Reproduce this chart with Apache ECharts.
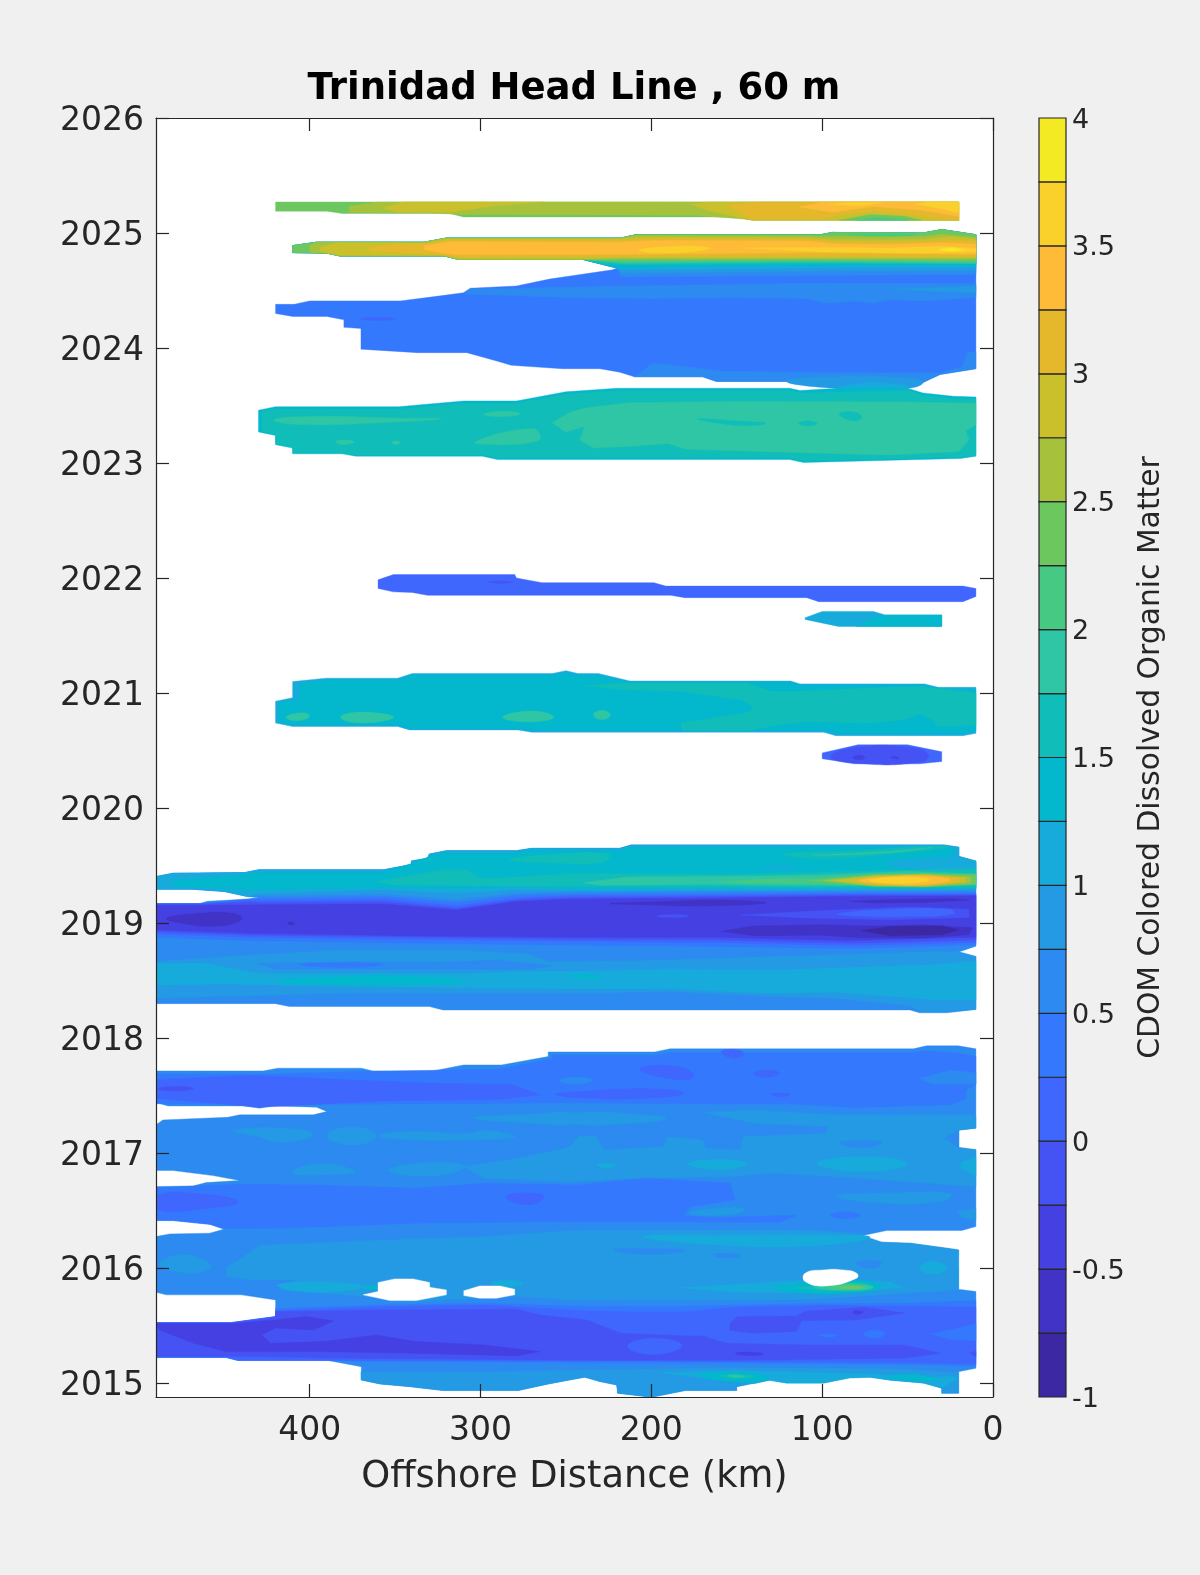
<!DOCTYPE html>
<html>
<head>
<meta charset="utf-8">
<script src="https://cdn.jsdelivr.net/npm/echarts@6/dist/echarts.min.js"></script>
<style>html,body{margin:0;padding:0;background:#F0F0F0}#c{width:1200px;height:1575px}</style>
</head>
<body>
<div id="c"></div>
<script>
// ---- scale ----
const yearTicks = [2015,2016,2017,2018,2019,2020,2021,2022,2023,2024,2025,2026];
const kmTicks = [0,100,200,300,400];
const cdomTicks = [-1,-0.5,0,0.5,1,1.5,2,2.5,3,3.5,4];
const cdomBands = [-1,-0.75,-0.5,-0.25,0,0.25,0.5,0.75,1,1.25,1.5,1.75,2,2.25,2.5,2.75,3,3.25,3.5,3.75,4];
const levelColors = ['#3C28A2','#4033C5','#4540E2','#4553F5','#3F66FD','#3478FD','#2C8AF0','#2499E4','#17ABDC','#03B7CC','#11BDB9','#2FC6A5','#46C983','#6DC75F','#A6C23C','#C9C02C','#E5B82C','#FDBB37','#FAD12A','#F4EA24'];
const GAP = -1; // no data

// ---- filled contour regions: [level, [[km, year], ...]] ----
const surveyTop2025 = [
 [13,[[420,2025.27],[20,2025.27],[20,2025.11],[141,2025.11],[150,2025.14],[310,2025.14],[318,2025.17],[381,2025.17],[390,2025.19],[420,2025.19]]],
 [14,[[377,2025.23],[360,2025.27],[20,2025.27],[20,2025.11],[141,2025.115],[175,2025.155],[310,2025.16],[330,2025.175],[377,2025.18]]],
 [15,[[357,2025.22],[345,2025.27],[263,2025.27],[290,2025.24],[318,2025.18],[350,2025.18]]],
 [15,[[177,2025.25],[165,2025.27],[20,2025.27],[20,2025.11],[141,2025.11],[150,2025.14],[165,2025.19]]],
 [16,[[155,2025.24],[140,2025.27],[20,2025.27],[20,2025.11],[31,2025.12],[48,2025.16],[70,2025.19],[90,2025.16],[100,2025.12],[141,2025.12],[150,2025.19]]],
 [17,[[113,2025.225],[100,2025.27],[20,2025.27],[20,2025.145],[43,2025.2],[70,2025.23],[94,2025.18]]],
 [18,[[96,2025.245],[85,2025.265],[65,2025.265],[75,2025.24]]],
 [18,[[45,2025.25],[38,2025.27],[20,2025.27],[20,2025.175],[30,2025.21]]],
 [13,[[90,2025.11],[72,2025.16],[52,2025.145],[42,2025.11]]],
 [12,[[80,2025.11],[68,2025.135],[55,2025.12],[50,2025.11]]]
];
const stripEdge2024 = [[220,2024.695],[228,2024.725],[240,2024.77],[313,2024.77],[321,2024.80],[382,2024.80],[390,2024.825],[410,2024.83],[410,2024.89],[396,2024.92],[333,2024.92],[320,2024.956],[218,2024.956],[209,2024.985],[101,2024.985],[94,2025.005],[41,2025.0],[30,2025.03],[10,2024.985]];
const blueEdge2024 = [[10,2023.82],[31,2023.77],[41,2023.70],[50,2023.65],[91,2023.65],[121,2023.71],[162,2023.71],[170,2023.75],[210,2023.75],[218.5,2023.79],[230,2023.82],[252,2023.82],[282,2023.85],[290,2023.885],[308,2023.96],[337,2023.96],[370,2023.99],[370,2024.17],[380,2024.18],[380,2024.245],[390,2024.275],[410,2024.275],[420,2024.30],[420,2024.38],[409,2024.38],[400,2024.41],[347,2024.41],[328,2024.445],[310,2024.48],[306,2024.52],[279,2024.54],[259.5,2024.60],[222.6,2024.68]];
const contours2024 = [
 [6,0,[[10,2024.64],[100,2024.63],[218,2024.617]]],
 [7,0,[[10,2024.667],[100,2024.667],[218,2024.652]]],
 [8,0,[[10,2024.70],[100,2024.695],[218,2024.68]]],
 [9,0,[[10,2024.72],[100,2024.72],[218,2024.70]]],
 [10,1,[[10,2024.73],[100,2024.73],[218,2024.725]]],
 [11,2,[[10,2024.735],[100,2024.745],[218,2024.735]]],
 [12,2,[[10,2024.745],[100,2024.755],[218,2024.745]]],
 [13,2,[[10,2024.755],[100,2024.765],[218,2024.76]]]
];
const strip2024 = [
 [14,[[400,2024.89],[396,2024.92],[333,2024.92],[320,2024.956],[218,2024.956],[209,2024.98],[110,2024.975],[95,2024.97],[60,2024.965],[40,2024.97],[30,2024.99],[10,2024.96],[10,2024.775],[100,2024.775],[218,2024.775],[240,2024.77],[313,2024.77],[321,2024.80],[382,2024.80],[390,2024.825],[400,2024.83]]],
 [15,[[394,2024.875],[385,2024.915],[333,2024.913],[320,2024.948],[218,2024.948],[205,2024.968],[110,2024.96],[95,2024.945],[60,2024.94],[40,2024.945],[25,2024.97],[10,2024.945],[10,2024.785],[100,2024.785],[218,2024.785],[240,2024.777],[313,2024.777],[321,2024.807],[382,2024.807],[394,2024.84]]],
 [16,[[365,2024.87],[350,2024.905],[333,2024.905],[318,2024.935],[218,2024.935],[200,2024.95],[110,2024.945],[90,2024.925],[60,2024.92],[40,2024.925],[25,2024.94],[10,2024.925],[10,2024.797],[100,2024.797],[218,2024.797],[313,2024.79],[325,2024.815],[365,2024.845]]],
 [17,[[333,2024.89],[318,2024.925],[218,2024.92],[200,2024.935],[110,2024.93],[90,2024.905],[60,2024.90],[30,2024.915],[10,2024.905],[10,2024.815],[100,2024.83],[218,2024.815],[313,2024.81],[321,2024.825],[333,2024.855]]],
 [18,[[207,2024.855],[185,2024.885],[166,2024.87],[175,2024.84],[200,2024.83]]],
 [18,[[145,2024.87],[100,2024.875],[60,2024.87],[30,2024.885],[10,2024.865],[10,2024.835],[40,2024.825],[100,2024.835]]],
 [19,[[32,2024.855],[24,2024.875],[17,2024.855],[24,2024.84]]],
 [12,[[85,2024.985],[60,2024.992],[45,2024.985],[60,2024.975]]]
];
const blue2024 = [
 [6,[[310,2024.47],[306,2024.515],[279,2024.52],[218,2024.54],[100,2024.565],[10,2024.56],[10,2024.44],[40,2024.41],[60,2024.42],[70,2024.39],[80,2024.41],[97,2024.39],[110,2024.43],[150,2024.44],[200,2024.43],[250,2024.44]]],
 [7,[[60,2024.51],[10,2024.54],[10,2024.48],[30,2024.49]]],
 [6,[[210,2023.75],[199,2023.87],[180,2023.84],[160,2023.80],[110,2023.79],[62,2023.785],[31,2023.785],[18,2023.84],[15,2023.96],[10,2023.97],[10,2023.82],[31,2023.77],[41,2023.70],[50,2023.65],[91,2023.65],[121,2023.71],[162,2023.71],[170,2023.75]]],
 [7,[[121,2023.71],[95,2023.75],[50,2023.74],[41,2023.70],[50,2023.65],[91,2023.65]]],
 [8,[[91,2023.65],[70,2023.70],[50,2023.66]]],
 [4,[[370,2024.255],[360,2024.265],[350,2024.255],[360,2024.24]]]
];
const teal2023 = [
 [9,[[430,2023.46],[420,2023.49],[348,2023.49],[310,2023.54],[279,2023.54],[250,2023.62],[220,2023.65],[119,2023.65],[113,2023.63],[91,2023.65],[50,2023.65],[41,2023.61],[23,2023.58],[10,2023.575],[10,2023.06],[19,2023.04],[111,2023.005],[119,2023.03],[213,2023.03],[290,2023.03],[299,2023.06],[373,2023.06],[381,2023.08],[410,2023.08],[410,2023.13],[420,2023.16],[420,2023.24],[430,2023.27]]],
 [10,[[428,2023.45],[420,2023.47],[348,2023.47],[310,2023.52],[279,2023.52],[250,2023.60],[218,2023.63],[119,2023.63],[113,2023.61],[50,2023.63],[41,2023.59],[23,2023.56],[10,2023.56],[10,2023.07],[19,2023.05],[111,2023.02],[119,2023.045],[213,2023.045],[290,2023.045],[299,2023.07],[373,2023.07],[381,2023.09],[410,2023.09],[410,2023.14],[420,2023.17],[420,2023.25],[428,2023.28]]],
 [11,[[258,2023.35],[248,2023.44],[238,2023.48],[213,2023.525],[150,2023.535],[50,2023.53],[10,2023.52],[10,2023.33],[16,2023.28],[14,2023.2],[20,2023.1],[60,2023.07],[110,2023.09],[180,2023.12],[190,2023.17],[213,2023.145],[234,2023.13],[242,2023.20],[239,2023.32],[250,2023.27]]],
 [10,[[173,2023.385],[150,2023.365],[133,2023.345],[145,2023.325],[160,2023.345]]],
 [10,[[114,2023.345],[108,2023.365],[103,2023.34],[110,2023.325]]],
 [10,[[90,2023.43],[80,2023.44],[77,2023.39],[83,2023.37]]],
 [11,[[421,2023.375],[400,2023.405],[350,2023.39],[323,2023.385],[360,2023.35],[405,2023.335]]],
 [11,[[298,2023.425],[285,2023.45],[277,2023.425],[290,2023.405]]],
 [11,[[303,2023.185],[270,2023.30],[265,2023.22],[270,2023.18],[290,2023.16]]],
 [11,[[385,2023.185],[380,2023.2],[374,2023.185],[380,2023.16]]],
 [11,[[352,2023.18],[349,2023.195],[347,2023.18],[349,2023.16]]]
];
const strip2022 = [
 [4,[[360,2021.985],[351,2022.03],[280,2022.03],[279,2022.0],[264,2021.96],[198.5,2021.96],[191.6,2021.93],[17.6,2021.93],[10,2021.91],[10,2021.84],[17.6,2021.795],[102,2021.795],[109,2021.83],[180.4,2021.83],[188.7,2021.85],[331,2021.85],[340,2021.875],[351,2021.88],[360,2021.91]]],
 [3,[[296,2021.965],[288,2021.975],[281,2021.965],[288,2021.95]]],
 [8,[[110,2021.655],[100,2021.71],[70,2021.71],[63,2021.68],[30,2021.68],[30,2021.58],[90.5,2021.58],[110,2021.64]]],
 [9,[[80,2021.58],[72,2021.65],[62,2021.68],[30,2021.68],[30,2021.58]]]
];
const patch2021 = [
 [8,[[420,2020.93],[410,2020.96],[410,2021.10],[390.5,2021.13],[348.5,2021.13],[340,2021.17],[258,2021.17],[250,2021.195],[243,2021.17],[231,2021.17],[212.6,2021.105],[118.5,2021.105],[113,2021.08],[40,2021.08],[32,2021.05],[10,2021.05],[10,2020.65],[17.6,2020.63],[92,2020.63],[99,2020.66],[270,2020.66],[278,2020.68],[341.6,2020.68],[348.5,2020.71],[410,2020.71],[420,2020.74]]],
 [9,[[418,2020.92],[406,2020.95],[406,2021.08],[390,2021.115],[348,2021.115],[340,2021.155],[258,2021.155],[250,2021.165],[231,2021.15],[212,2021.09],[118,2021.09],[113,2021.065],[40,2021.065],[32,2021.035],[10,2021.03],[10,2020.67],[18,2020.65],[92,2020.65],[99,2020.68],[270,2020.68],[278,2020.695],[342,2020.695],[348,2020.725],[410,2020.725],[418,2020.75]]],
 [10,[[239,2021.065],[214,2021.087],[144,2021.087],[130,2021.015],[113,2021.015],[79,2021.04],[43,2021.06],[10,2021.0],[10,2020.72],[32,2020.71],[36,2020.77],[43,2020.82],[51,2020.77],[71,2020.74],[110,2020.75],[127,2020.72],[144,2020.67],[182,2020.675],[183,2020.74],[166,2020.78],[144,2020.83],[140,2020.88],[147,2020.94],[183,2021.015],[217,2021.03]]],
 [11,[[414,2020.79],[405,2020.83],[400,2020.8],[407,2020.76]]],
 [11,[[382,2020.79],[370,2020.835],[351,2020.79],[370,2020.74]]],
 [11,[[287,2020.79],[270,2020.845],[257,2020.79],[272,2020.75]]],
 [11,[[234,2020.81],[229,2020.85],[224,2020.81],[229,2020.77]]],
 [4,[[100,2020.48],[79,2020.55],[50,2020.55],[30,2020.49],[30,2020.405],[43,2020.385],[81,2020.385],[100,2020.43]]],
 [3,[[95,2020.45],[79,2020.53],[50,2020.53],[38,2020.47],[42,2020.40],[80,2020.39]]],
 [2,[[82,2020.44],[78,2020.46],[75,2020.44],[78,2020.42]]],
 [2,[[60,2020.44],[57,2020.45],[55,2020.43]]]
];
const outline2019 = [[490,2019.405],[480,2019.434],[438,2019.44],[430,2019.463],[357,2019.463],[340.5,2019.51],[340.5,2019.54],[331,2019.565],[330,2019.60],[320,2019.63],[279,2019.63],[270,2019.65],[218.5,2019.65],[211.7,2019.68],[29,2019.68],[20,2019.66],[20,2019.58],[10,2019.54],[10,2018.80],[20,2018.75],[10,2018.71],[10,2018.25],[27,2018.22],[43,2018.22],[48.6,2018.245],[322,2018.245],[330,2018.275],[412,2018.275],[420,2018.30],[490,2018.30],[490,2019.17],[464.5,2019.17],[460,2019.19],[436,2019.21],[430,2019.22],[436,2019.23],[450,2019.275],[469,2019.295],[490,2019.295]];
const upperEdge2019 = [[436,2019.23],[450,2019.275],[469,2019.295],[490,2019.295],[490,2019.405],[480,2019.434],[438,2019.44],[430,2019.463],[357,2019.463],[340.5,2019.51],[340.5,2019.54],[331,2019.565],[330,2019.60],[320,2019.63],[279,2019.63],[270,2019.65],[218.5,2019.65],[211.7,2019.68],[29,2019.68],[20,2019.66],[20,2019.58],[10,2019.54]];
const upperContours2019 = [
 [7,[[10,2019.283],[92,2019.28],[170,2019.277],[248,2019.272],[279,2019.26],[314,2019.208],[357,2019.254],[430,2019.237]]],
 [8,[[10,2019.295],[92,2019.295],[170,2019.289],[248,2019.283],[279,2019.289],[314,2019.26],[357,2019.289],[430,2019.26]]]
];
const lower2019 = [
 [7,[[490,2018.666],[435,2018.724],[377,2018.767],[318,2018.767],[273,2018.738],[260,2018.666],[248,2018.666],[189,2018.68],[130,2018.709],[33,2018.753],[20,2018.75],[10,2018.71],[10,2018.25],[27,2018.23],[43,2018.23],[48,2018.28],[92,2018.347],[130,2018.361],[189,2018.405],[242,2018.39],[377,2018.39],[490,2018.347]]],
 [6,[[431,2018.65],[377,2018.665],[320,2018.66],[290,2018.68],[258,2018.63],[270,2018.60],[318,2018.60],[377,2018.60],[420,2018.60]]],
 [5,[[406,2018.64],[380,2018.655],[357,2018.64],[380,2018.615]]],
 [8,[[490,2018.65],[460,2018.65],[430,2018.56],[377,2018.56],[310,2018.56],[275,2018.58],[248,2018.58],[189,2018.6],[130,2018.59],[33,2018.64],[10,2018.67],[10,2018.33],[30,2018.33],[92,2018.40],[130,2018.39],[189,2018.43],[242,2018.43],[377,2018.45],[450,2018.47],[490,2018.46]]],
 [9,[[419,2018.49],[380,2018.54],[338,2018.535],[310,2018.5],[338,2018.465],[380,2018.46]]],
 [9,[[248,2018.545],[235,2018.55],[228,2018.53],[240,2018.52]]]
];
const dark2019 = [
 [5,[[490,2019.17],[464,2019.17],[436,2019.21],[430,2019.217],[357,2019.231],[314,2019.179],[279,2019.24],[248,2019.254],[170,2019.26],[92,2019.266],[10,2019.269],[10,2018.811],[82,2018.779],[130,2018.787],[160,2018.796],[242,2018.808],[338,2018.825],[435,2018.849],[490,2018.878]]],
 [4,[[490,2019.168],[464,2019.168],[436,2019.2],[430,2019.196],[357,2019.208],[314,2019.15],[279,2019.217],[248,2019.237],[170,2019.243],[92,2019.254],[10,2019.254],[10,2018.831],[82,2018.805],[130,2018.82],[160,2018.831],[242,2018.843],[338,2018.86],[435,2018.878],[490,2018.906]]],
 [3,[[490,2019.165],[464,2019.165],[436,2019.185],[430,2019.179],[357,2019.188],[314,2019.13],[279,2019.202],[248,2019.222],[170,2019.231],[92,2019.243],[10,2019.243],[10,2018.854],[82,2018.825],[130,2018.84],[160,2018.854],[242,2018.86],[338,2018.878],[435,2018.895],[490,2018.924]]],
 [2,[[490,2019.155],[464,2019.155],[430,2019.159],[357,2019.167],[314,2019.115],[279,2019.188],[248,2019.208],[170,2019.217],[92,2019.231],[10,2019.237],[10,2018.878],[82,2018.849],[130,2018.863],[160,2018.878],[242,2018.878],[338,2018.889],[435,2018.912],[490,2018.941]]],
 [3,[[148,2019.07],[100,2019.11],[50,2019.14],[14,2019.12],[14,2019.05],[60,2019.03],[110,2019.045]]],
 [4,[[91,2019.08],[60,2019.12],[25,2019.12],[23,2019.08],[50,2019.055],[80,2019.06]]],
 [3,[[197,2019.06],[187,2019.075],[178,2019.06],[187,2019.05]]],
 [1,[[484,2019.04],[472,2019.075],[445,2019.085],[440,2019.03],[455,2018.975],[475,2019.0]]],
 [1,[[413,2019.0],[411,2019.01],[409,2019.0],[411,2018.985]]],
 [1,[[224,2019.17],[197,2019.185],[160,2019.2],[133,2019.175],[170,2019.15],[205,2019.16]]],
 [1,[[84,2019.19],[60,2019.205],[25,2019.215],[14,2019.2],[40,2019.18],[70,2019.175]]],
 [1,[[159,2018.93],[140,2018.975],[100,2018.985],[70,2018.975],[40,2018.985],[12,2018.96],[14,2018.90],[40,2018.87],[80,2018.875],[100,2018.895],[140,2018.89]]],
 [0,[[77,2018.935],[60,2018.97],[30,2018.975],[20,2018.94],[30,2018.9],[60,2018.89]]]
];
const upper2019 = [
 [9,[[480,2019.37],[438,2019.42],[430,2019.44],[357,2019.44],[340,2019.52],[330,2019.58],[320,2019.61],[279,2019.61],[270,2019.63],[218,2019.63],[212,2019.66],[29,2019.66],[22,2019.64],[25,2019.58],[10,2019.5],[10,2019.304],[92,2019.304],[170,2019.301],[248,2019.295],[279,2019.318],[314,2019.304],[357,2019.312],[430,2019.289],[480,2019.32]]],
 [8,[[62,2019.54],[20,2019.58],[10,2019.53],[10,2019.47],[30,2019.455],[60,2019.49]]],
 [8,[[135,2019.48],[125,2019.495],[115,2019.48],[125,2019.47]]],
 [10,[[123,2019.6],[80,2019.63],[35,2019.67],[26,2019.66],[60,2019.6],[100,2019.56]]],
 [11,[[105,2019.59],[60,2019.625],[35,2019.66],[60,2019.615]]],
 [10,[[283,2019.55],[255,2019.6],[225,2019.6],[228,2019.53],[255,2019.52]]],
 [10,[[361,2019.362],[322,2019.463],[308,2019.463],[300,2019.39],[291,2019.39],[242,2019.434],[225,2019.43],[150,2019.425],[60,2019.46],[10,2019.47],[10,2019.31],[100,2019.31],[248,2019.32],[350,2019.33]]],
 [11,[[240,2019.35],[215,2019.40],[140,2019.41],[100,2019.42],[50,2019.45],[10,2019.43],[10,2019.335],[90,2019.325],[170,2019.335],[230,2019.33]]],
 [12,[[160,2019.36],[130,2019.385],[105,2019.39],[60,2019.43],[15,2019.42],[12,2019.35],[60,2019.33],[100,2019.34],[140,2019.345]]],
 [13,[[107,2019.37],[70,2019.42],[40,2019.43],[10,2019.42],[10,2019.335],[40,2019.315],[70,2019.32]]],
 [14,[[99,2019.37],[70,2019.415],[40,2019.425],[13,2019.4],[13,2019.35],[40,2019.32],[70,2019.325]]],
 [15,[[93,2019.37],[68,2019.41],[40,2019.42],[16,2019.395],[16,2019.355],[40,2019.325],[68,2019.33]]],
 [16,[[82,2019.37],[65,2019.405],[40,2019.415],[20,2019.39],[20,2019.36],[40,2019.33],[65,2019.335]]],
 [17,[[78,2019.37],[62,2019.4],[42,2019.41],[25,2019.375],[42,2019.335],[62,2019.34]]],
 [18,[[72,2019.37],[55,2019.4],[37,2019.375],[55,2019.345]]]
];
const outline2016 = [[490,2017.715],[427.4,2017.715],[418.6,2017.739],[369.8,2017.739],[363,2017.715],[327.8,2017.715],[310,2017.767],[287.8,2017.767],[260.4,2017.84],[260.4,2017.88],[198,2017.88],[189,2017.907],[46.6,2017.907],[38.9,2017.933],[20.3,2017.933],[10,2017.907],[10,2017.217],[20.3,2017.2],[20.3,2017.05],[10,2017.03],[10,2016.362],[18.3,2016.327],[62.3,2016.327],[78.9,2016.275],[65.2,2016.226],[48.6,2016.217],[27.1,2016.174],[20.3,2016.159],[20.3,2016.116],[30,2016.072],[30,2016.029],[20.3,2016.007],[20.3,2015.817],[10,2015.797],[10,2015.13],[20.3,2015.1],[20.3,2014.913],[30,2014.913],[30,2014.956],[40.8,2015.005],[60.3,2015.028],[72,2015.057],[83.7,2015.049],[99.4,2015.005],[120.8,2015.005],[130.6,2015.028],[140.4,2014.999],[150.2,2014.97],[150.2,2014.936],[180.4,2014.936],[200,2014.878],[219.5,2014.913],[220.5,2014.985],[230.2,2015.014],[239,2015.052],[247.8,2015.028],[260.4,2014.994],[278,2014.936],[322,2014.936],[341.5,2014.97],[359,2014.994],[369.8,2015.028],[369.8,2015.144],[389.3,2015.197],[442,2015.197],[449,2015.223],[490,2015.223],[490,2015.527],[446,2015.527],[420,2015.579],[420,2015.724],[440,2015.768],[484,2015.768],[490,2015.791],[490,2016.275],[482,2016.298],[458.6,2016.304],[450.4,2016.339],[458.6,2016.382],[480,2016.414],[490,2016.414],[490,2016.71],[468.4,2016.715],[460.6,2016.744],[441,2016.762],[456.7,2016.805],[480,2016.849],[490,2016.849],[490,2017.246],[486,2017.289],[448,2017.312],[441,2017.333],[398,2017.333],[390,2017.362],[396,2017.4],[421.5,2017.411],[429.4,2017.391],[439,2017.411],[483,2017.411],[490,2017.44]];
const upper2017 = [
 [5,[[490,2017.685],[427,2017.685],[370,2017.71],[290,2017.73],[258,2017.82],[258,2017.85],[198,2017.85],[189,2017.875],[46,2017.875],[40,2017.89],[20,2017.87],[10,2017.84],[10,2017.6],[16,2017.55],[16,2017.47],[25,2017.42],[60,2017.405],[80,2017.395],[120,2017.43],[200,2017.43],[248,2017.44],[300,2017.43],[400,2017.425],[490,2017.43]]],
 [6,[[43,2017.652],[25,2017.72],[10,2017.70],[10,2017.6],[35,2017.6]]],
 [6,[[254,2017.63],[245,2017.66],[234,2017.635],[245,2017.60]]],
 [4,[[490,2017.637],[435,2017.675],[376,2017.637],[328,2017.608],[281,2017.594],[265,2017.507],[289,2017.469],[357,2017.455],[429,2017.4],[468,2017.449],[490,2017.478]]],
 [3,[[489,2017.56],[478,2017.58],[468,2017.565],[478,2017.54]]],
 [4,[[256,2017.51],[248,2017.53],[200,2017.56],[181,2017.52],[200,2017.48],[240,2017.48]]],
 [4,[[207,2017.73],[185,2017.755],[175,2017.67],[185,2017.64]]],
 [4,[[159,2017.88],[150,2017.9],[146,2017.86],[152,2017.825]]],
 [4,[[140,2017.69],[132,2017.72],[125,2017.695],[133,2017.66]]],
 [4,[[130,2017.515],[124,2017.52],[119,2017.51],[124,2017.49]]]
];
const mid2017 = [
 [7,[[304,2017.305],[270,2017.34],[242,2017.345],[242,2017.26],[270,2017.26]]],
 [7,[[248,2017.345],[200,2017.33],[191,2017.3],[210,2017.26],[248,2017.26]]],
 [7,[[310,2016.883],[279,2016.956],[250,2017.043],[248,2017.057],[242,2017.15],[232,2017.144],[228,2017.028],[193,2017.057],[191,2017.144],[170,2017.115],[168,2017.043],[148,2017.028],[146,2017.144],[97.4,2017.173],[97,2017.231],[140,2017.26],[170,2017.353],[140,2017.376],[92,2017.333],[13,2017.333],[10,2017.32],[10,2017.217],[20,2017.2],[20,2017.05],[10,2017.03],[10,2016.71],[92,2016.796],[130,2016.825],[152,2016.796],[209,2016.782],[248,2016.75],[298,2016.782]]],
 [7,[[445,2017.2],[410,2017.215],[398,2017.16],[415,2017.095],[430,2017.14]]],
 [7,[[390,2017.15],[375,2017.23],[361,2017.15],[375,2017.07]]],
 [7,[[359,2017.15],[340,2017.19],[310,2017.17],[295,2017.2],[280,2017.14],[310,2017.115],[340,2017.115]]],
 [7,[[410,2016.83],[395,2016.91],[373,2016.84],[390,2016.81]]],
 [7,[[354,2016.85],[330,2016.92],[309,2016.88],[330,2016.80]]],
 [8,[[103,2016.91],[75,2016.97],[50,2016.91],[75,2016.84]]],
 [8,[[179,2016.91],[160,2016.945],[144,2016.91],[160,2016.855]]],
 [8,[[232,2016.9],[226,2016.91],[221,2016.9],[226,2016.87]]],
 [8,[[19,2016.92],[10,2016.97],[10,2016.8],[19,2016.87]]],
 [6,[[90,2017.09],[78,2017.11],[65,2017.09],[78,2017.05]]],
 [6,[[28,2017.13],[20,2017.2],[20,2017.05]]]
];
const low2016 = [
 [5,[[490,2016.70],[441,2016.73],[396,2016.724],[338,2016.695],[298,2016.738],[242,2016.724],[203,2016.782],[154,2016.738],[151,2016.594],[177,2016.535],[181,2016.46],[165,2016.44],[115,2016.46],[125,2016.4],[242,2016.406],[338,2016.391],[416,2016.348],[450,2016.345],[458,2016.38],[480,2016.414],[490,2016.414]]],
 [5,[[95,2016.46],[86,2016.49],[78,2016.46],[86,2016.43]]],
 [4,[[490,2016.63],[460,2016.64],[442,2016.575],[460,2016.52],[490,2016.51]]],
 [4,[[285,2016.62],[272,2016.655],[263,2016.62],[272,2016.55]]],
 [7,[[92,2016.63],[60,2016.655],[25,2016.65],[30,2016.58],[70,2016.57]]],
 [7,[[21,2016.49],[10,2016.52],[10,2016.42],[18,2016.44]]],
 [7,[[178,2016.48],[156,2016.53],[145,2016.51],[156,2016.46]]],
 [7,[[449,2016.0],[429,2016.2],[357,2016.246],[298,2016.275],[242,2016.333],[180,2016.333],[111,2016.333],[80,2016.304],[65,2016.226],[48,2016.217],[27,2016.174],[20,2016.159],[20,2015.817],[30,2015.8],[52,2015.782],[111,2015.724],[180,2015.724],[248,2015.724],[279,2015.753],[338,2015.71],[369,2015.753],[418,2015.811],[408,2015.9],[435,2015.9],[449,2015.93]]],
 [7,[[488,2016.04],[472,2016.116],[458,2016.01],[472,2015.956]]],
 [8,[[419,2015.85],[395,2015.88],[369,2015.84],[395,2015.79]]],
 [9,[[370,2015.83],[362,2015.85],[360,2015.82]]],
 [8,[[294,2015.87],[285,2015.895],[275,2015.87],[285,2015.84]]],
 [8,[[205,2016.275],[150,2016.29],[100,2016.29],[72,2016.27],[100,2016.2],[160,2016.2]]],
 [6,[[222,2016.16],[200,2016.17],[180,2016.155],[200,2016.12]]],
 [6,[[164,2016.12],[155,2016.125],[148,2016.11],[156,2016.09]]],
 [6,[[80,2016.04],[72,2016.065],[65,2016.04],[72,2016.0]]],
 [8,[[43,2016.0],[35,2016.06],[27,2016.0],[35,2015.95]]],
 [8,[[183,2015.83],[140,2015.87],[110,2015.9],[85,2015.9],[60,2015.88],[52,2015.83],[90,2015.78],[150,2015.79]]],
 [9,[[127,2015.83],[110,2015.87],[80,2015.9],[66,2015.83],[90,2015.78],[115,2015.79]]],
 [10,[[115,2015.83],[100,2015.85],[80,2015.88],[70,2015.83],[90,2015.8],[105,2015.81]]],
 [11,[[105,2015.83],[95,2015.845],[80,2015.865],[70,2015.83],[85,2015.805]]],
 [12,[[97,2015.83],[85,2015.855],[74,2015.83],[85,2015.815]]],
 [13,[[90,2015.83],[82,2015.845],[76,2015.83],[82,2015.82]]]
];
const dark2015 = [
 [5,[[420,2015.65],[357,2015.68],[298,2015.695],[242,2015.67],[180,2015.67],[110,2015.69],[52,2015.695],[10,2015.72],[10,2015.15],[60,2015.165],[150,2015.175],[250,2015.18],[370,2015.19],[389.3,2015.197],[442,2015.197],[449,2015.223],[490,2015.223],[490,2015.527],[446,2015.527],[420,2015.579]]],
 [7,[[370,2015.1],[300,2015.1],[245,2015.115],[150,2015.135],[60,2015.125],[25,2015.10],[20,2015.1],[20,2014.913],[30,2014.913],[30,2014.956],[41,2015.005],[60,2015.028],[72,2015.057],[84,2015.049],[99,2015.005],[121,2015.005],[131,2015.028],[140,2014.999],[150,2014.97],[150,2014.936],[180,2014.936],[200,2014.878],[220,2014.913],[220,2014.985],[230,2015.014],[239,2015.052],[248,2015.028],[260,2014.994],[278,2014.936],[322,2014.936],[341,2014.97],[359,2014.994],[370,2015.028]]],
 [8,[[195,2015.09],[150,2015.11],[100,2015.09],[70,2015.08],[40,2015.05],[25,2015.06],[20,2015.05],[30,2014.96],[41,2015.0],[60,2015.025],[72,2015.05],[84,2015.045],[99,2015.0],[121,2015.0],[131,2015.025],[140,2014.995],[160,2015.03]]],
 [9,[[172,2015.07],[150,2015.095],[131,2015.04],[150,2015.01]]],
 [9,[[62,2015.06],[45,2015.075],[33,2015.03],[50,2015.03]]],
 [10,[[160,2015.065],[150,2015.08],[140,2015.06],[150,2015.04]]],
 [11,[[155,2015.065],[150,2015.07],[145,2015.06],[150,2015.05]]],
 [4,[[420,2015.63],[357,2015.665],[298,2015.68],[242,2015.63],[210,2015.62],[180,2015.62],[150,2015.66],[100,2015.675],[60,2015.67],[10,2015.66],[10,2015.17],[60,2015.18],[150,2015.19],[250,2015.195],[370,2015.2],[389,2015.2],[442,2015.2],[449,2015.226],[490,2015.226],[490,2015.527],[446,2015.527],[420,2015.579]]],
 [5,[[37,2015.43],[20,2015.48],[10,2015.52],[10,2015.37],[25,2015.38]]],
 [5,[[102,2015.42],[96,2015.43],[91,2015.42],[96,2015.4]]],
 [5,[[76,2015.43],[70,2015.46],[63,2015.43],[70,2015.39]]],
 [3,[[420,2015.623],[357,2015.637],[279,2015.643],[265,2015.594],[238,2015.55],[228,2015.492],[218,2015.434],[179,2015.41],[170,2015.41],[156,2015.347],[111,2015.333],[52,2015.333],[31,2015.26],[52,2015.217],[150,2015.2],[248,2015.2],[377,2015.217],[449,2015.235],[490,2015.235],[490,2015.52],[446,2015.52],[420,2015.573]]],
 [4,[[214,2015.32],[200,2015.39],[182,2015.33],[198,2015.25]]],
 [2,[[490,2015.52],[446,2015.52],[420,2015.55],[402,2015.579],[386,2015.541],[398,2015.463],[420,2015.48],[428,2015.42],[423,2015.347],[392,2015.362],[361,2015.42],[338,2015.362],[298,2015.333],[265,2015.275],[279,2015.237],[338,2015.26],[396,2015.275],[449,2015.275],[468,2015.347],[488,2015.463]]],
 [3,[[154,2015.52],[150,2015.578],[115,2015.585],[110,2015.625],[75,2015.66],[52,2015.61],[80,2015.55],[112,2015.545],[115,2015.45],[140,2015.435],[154,2015.46]]],
 [2,[[82,2015.62],[80,2015.63],[76,2015.62],[80,2015.6]]],
 [2,[[151,2015.26],[142,2015.27],[134,2015.255],[142,2015.24]]],
 [3,[[14,2015.26],[10,2015.28],[10,2015.23]]]
];
const gaps2016 = [
 [GAP,[[368.8,2015.768],[360,2015.797],[360,2015.875],[350.3,2015.907],[339.5,2015.907],[329.8,2015.875],[329.8,2015.834],[320,2015.811],[320,2015.768],[337.6,2015.718],[353,2015.718]]],
 [GAP,[[309.8,2015.803],[300.5,2015.846],[288.7,2015.846],[280,2015.817],[280,2015.768],[290.7,2015.739],[300.5,2015.739],[309.8,2015.762]]],
 [GAP,[[110,2015.956],[99.4,2015.985],[87.7,2015.985],[79.8,2015.956],[79.8,2015.913],[97.4,2015.846],[110,2015.884]]]
];

// ---- painter's order ----
const layers = [].concat(
  [[6, outline2016]], upper2017, mid2017, low2016, dark2015, gaps2016,
  [[6, outline2019]],
  upperContours2019.map(c => [c[0], upperEdge2019.concat(c[1])]),
  lower2019, dark2019, upper2019,
  patch2021, strip2022,
  [[5, stripEdge2024.concat(blueEdge2024)]], blue2024, teal2023,
  contours2024.map(c => [c[0], stripEdge2024.slice(c[1]).concat(c[2])]),
  strip2024, surveyTop2025
);
// regions with straight, clipped ends keep their corners; interior islands are rounded
const cornered = new Set([...surveyTop2025, ...strip2022]);
const isRounded = l => l[1].length <= 7 && !cornered.has(l) && l[1].every(p => p[0] > 20);

const inkColor = '#262626';
const tickFont = {fontFamily:'DejaVu Sans', fontSize:33, color:inkColor};
const chart = echarts.init(document.getElementById('c'), null, {renderer:'canvas'});
chart.setOption({
  backgroundColor:'#F0F0F0',
  animation:false,
  title:{text:'Trinidad Head Line , 60 m', left:569, top:66, textAlign:'center',
    textStyle:{fontFamily:'DejaVu Sans', fontWeight:'bold', fontSize:37, color:'#000'}},
  grid:[
    {left:156, top:118, width:837, height:1279, backgroundColor:'#fff', show:true, borderWidth:0},
    {left:1039, top:118, width:27, height:1279, show:false}
  ],
  xAxis:[
    {type:'value', gridIndex:0, min:0, max:490, inverse:true, position:'bottom', z:20,
     splitLine:{show:false},
     axisLine:{show:true, onZero:false, lineStyle:{color:inkColor, width:1.2}},
     axisTick:{show:true, inside:true, length:13, customValues:kmTicks, lineStyle:{color:inkColor, width:1.2}},
     axisLabel:{show:true, customValues:kmTicks, margin:18, formatter:v=>String(v), ...tickFont},
     name:'Offshore Distance (km)', nameLocation:'middle', nameGap:62,
     nameTextStyle:{fontFamily:'DejaVu Sans', fontSize:36.8, color:inkColor}},
    {type:'value', gridIndex:0, min:0, max:490, inverse:true, position:'top', z:20,
     splitLine:{show:false},
     axisLine:{show:true, onZero:false, lineStyle:{color:inkColor, width:1.2}},
     axisTick:{show:true, inside:true, length:13, customValues:kmTicks, lineStyle:{color:inkColor, width:1.2}},
     axisLabel:{show:false}},
    {type:'value', gridIndex:1, min:0, max:1, show:false}
  ],
  yAxis:[
    {type:'value', gridIndex:0, min:2014.88, max:2026, position:'left', z:20,
     splitLine:{show:false},
     axisLine:{show:true, onZero:false, lineStyle:{color:inkColor, width:1.2}},
     axisTick:{show:true, inside:true, length:13, customValues:yearTicks, lineStyle:{color:inkColor, width:1.2}},
     axisLabel:{show:true, customValues:yearTicks, margin:12, verticalAlign:'top', lineHeight:6, formatter:v=>String(Math.round(v)), ...tickFont}},
    {type:'value', gridIndex:0, min:2014.88, max:2026, position:'right', z:20,
     splitLine:{show:false},
     axisLine:{show:true, onZero:false, lineStyle:{color:inkColor, width:1.2}},
     axisTick:{show:true, inside:true, length:13, customValues:yearTicks, lineStyle:{color:inkColor, width:1.2}},
     axisLabel:{show:false}},
    {type:'value', gridIndex:1, min:-1, max:4, position:'right', z:20,
     splitLine:{show:false},
     axisLine:{show:false}, axisTick:{show:false},
     axisLabel:{show:true, customValues:cdomTicks, margin:6, verticalAlign:'top', lineHeight:5, formatter:v=>String(v),
       fontFamily:'DejaVu Sans', fontSize:27, color:inkColor},
     name:'CDOM Colored Dissolved Organic Matter', nameLocation:'middle', nameGap:70, nameRotate:90,
     nameTextStyle:{fontFamily:'DejaVu Sans', fontSize:29.8, color:inkColor}}
  ],
  series:[
    {type:'custom', coordinateSystem:'cartesian2d', xAxisIndex:0, yAxisIndex:0, clip:true, silent:true, z:2,
     data:layers.map((l,i)=>[i,i]),
     renderItem(params, api){
       const layer = layers[params.dataIndex];
       const fill = layer[0]===GAP ? '#fff' : levelColors[layer[0]];
       return {type:'polygon',
         shape:{points:layer[1].map(p=>api.coord(p)), smooth: isRounded(layer) ? 0.5 : 0},
         style:{fill, stroke:fill, lineWidth:0.4}};
     }},
    {type:'custom', coordinateSystem:'cartesian2d', xAxisIndex:2, yAxisIndex:2, silent:true, z:2,
     data:levelColors.map((c,i)=>[0,i]),
     renderItem(params, api){
       const i = params.dataIndex;
       const a = api.coord([0, cdomBands[i+1]]);
       const b = api.coord([1, cdomBands[i]]);
       return {type:'rect',
         shape:{x:a[0], y:a[1], width:b[0]-a[0], height:b[1]-a[1]},
         style:{fill:levelColors[i], stroke:inkColor, lineWidth:1.2}};
     }}
  ]
});
</script>
</body>
</html>
